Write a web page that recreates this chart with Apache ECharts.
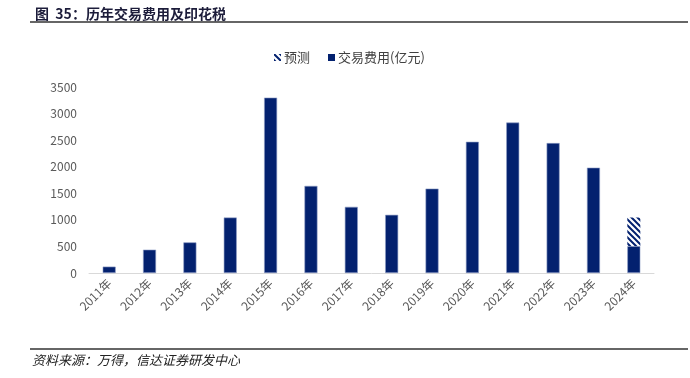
<!DOCTYPE html>
<html>
<head>
<meta charset="utf-8">
<script src="https://cdn.jsdelivr.net/npm/echarts@6/dist/echarts.min.js"></script>
<style>
  html, body {margin: 0; padding: 0; background: #fff;}
  #main {width: 690px; height: 378px;}
</style>
</head>
<body>
<div id="main"></div>
<script>
// 历年交易费用及印花税（亿元）
const years = ['2011年', '2012年', '2013年', '2014年', '2015年', '2016年', '2017年',
  '2018年', '2019年', '2020年', '2021年', '2022年', '2023年', '2024年'];
const fees = [120, 439, 576, 1044, 3300, 1639, 1245, 1095, 1588, 2469, 2831, 2445, 1982, 506];
const forecast = ['-', '-', '-', '-', '-', '-', '-', '-', '-', '-', '-', '-', '-', 538];
const yTicks = [0, 3500, 500];

const navy = '#03216f';
const font = '"Noto Sans CJK SC", "Noto Sans", sans-serif';

// 斜线填充
function hatch() {
  const c = document.createElement('canvas');
  c.width = 6; c.height = 6;
  const g = c.getContext('2d');
  g.fillStyle = '#fff';
  g.fillRect(0, 0, 6, 6);
  g.strokeStyle = navy;
  g.lineWidth = 2;
  g.beginPath();
  g.moveTo(-1, -1); g.lineTo(7, 7);
  g.moveTo(-4, 2); g.lineTo(4, 10);
  g.moveTo(2, -4); g.lineTo(10, 4);
  g.stroke();
  return c;
}

const chart = echarts.init(document.getElementById('main'));
chart.setOption({
  animation: false,
  textStyle: {fontFamily: font},
  title: {
    text: '图  35：历年交易费用及印花税',
    left: 30, top: 2,
    textStyle: {fontSize: 14, fontWeight: 'bold', color: '#1c1c3a', fontFamily: font}
  },
  graphic: [
    {type: 'line', shape: {x1: 30, y1: 22, x2: 688, y2: 22}, style: {stroke: '#666', lineWidth: 2}},
    {type: 'line', shape: {x1: 30, y1: 349, x2: 688, y2: 349}, style: {stroke: '#666', lineWidth: 2}},
    {type: 'text', left: 32, top: 354,
      style: {text: '资料来源：万得，信达证券研发中心', fontSize: 13, fontStyle: 'italic', fill: '#222', fontFamily: font}}
  ],
  legend: {
    left: 269, top: 46,
    icon: 'rect',
    itemWidth: 7, itemHeight: 7, itemGap: 18,
    itemStyle: {borderWidth: 0},
    textStyle: {fontSize: 13, color: '#404040', padding: [0, 0, 0, -2]},
    data: ['预测', '交易费用(亿元)']
  },
  grid: {left: 89, right: 36, top: 87, bottom: 105},
  xAxis: {
    type: 'category',
    data: years,
    axisLine: {lineStyle: {color: '#d9d9d9'}},
    axisTick: {length: 5, lineStyle: {color: '#d9d9d9'}},
    axisLabel: {rotate: 45, fontSize: 12, color: '#595959', margin: 8}
  },
  yAxis: {
    type: 'value',
    min: yTicks[0], max: yTicks[1], interval: yTicks[2],
    splitLine: {show: false},
    axisLine: {show: false},
    axisTick: {show: false},
    axisLabel: {fontSize: 12, color: '#595959', margin: 12, formatter: v => String(v)}
  },
  series: [
    {
      name: '交易费用(亿元)', type: 'bar', stack: 'total',
      data: fees, barWidth: 13,
      itemStyle: {color: navy, borderColor: '#8d9cc4', borderWidth: 0.6}
    },
    {
      name: '预测', type: 'bar', stack: 'total',
      data: forecast, barWidth: 13,
      itemStyle: {color: {image: hatch(), repeat: 'repeat'}}
    }
  ]
});
</script>
</body>
</html>
